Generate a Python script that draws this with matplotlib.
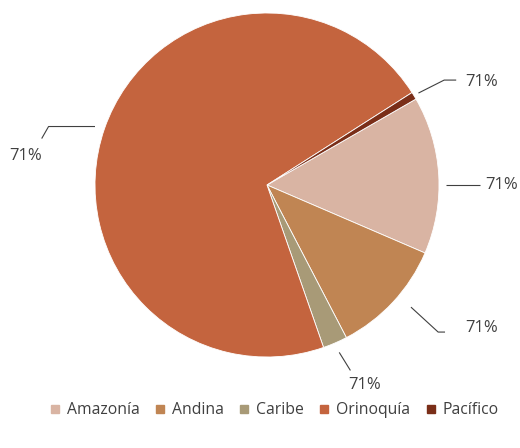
import numpy as np
import matplotlib.pyplot as plt
from matplotlib.lines import Line2D

plt.rcParams['font.family'] = ['Open Sans', 'DejaVu Sans']

# datos
regiones = ['Amazonía', 'Andina', 'Caribe', 'Orinoquía', 'Pacífico']
valores = [14.8, 10.9, 2.3, 71.3, 0.7]
etiquetas = ['71%', '71%', '71%', '71%', '71%']
colores = ['#D9B4A3', '#C08553', '#A89A77', '#C4643E', '#7A2E18']

# posicion de cada etiqueta (ax units)
pos_texto = [(1.27, 0.0), (1.15, -0.83), (0.47, -1.16), (-1.50, 0.17), (1.15, 0.60)]

fig = plt.figure(figsize=(5.2, 4.48), dpi=100)
ax = fig.add_axes([0, 0, 1, 1])

wedges, _ = ax.pie(valores, colors=colores, startangle=30, counterclock=False,
                   radius=1.0, wedgeprops=dict(linewidth=0.6, edgecolor='white'))
ax.set_aspect('auto')
ax.set_xlim(-267/172, 253/172)
ax.set_ylim(-263/172, 185/172)
ax.axis('off')

gris = '#404040'
for i, w in enumerate(wedges):
    ang = np.deg2rad((w.theta1 + w.theta2) / 2)
    tx, ty = pos_texto[i]
    if i == 0:    # Amazonia: linea horizontal
        xs, ys = [1.04, 1.24], [0.0, 0.0]
    elif i == 1:  # Andina
        xs, ys = [0.837, 0.995, 1.035], [-0.71, -0.855, -0.855]
    elif i == 2:  # Caribe
        x0, y0 = 1.06*np.cos(ang), 1.06*np.sin(ang)
        xs, ys = [x0, x0 + 0.065], [y0, y0 - 0.105]
    elif i == 3:  # Orinoquia
        xs, ys = [-1.0, -1.27, -1.31], [0.34, 0.34, 0.27]
    else:         # Pacifico
        x0, y0 = 1.03*np.cos(ang), 1.03*np.sin(ang)
        xs, ys = [x0, 1.03, 1.1], [y0, 0.61, 0.61]
    ax.plot(xs, ys, color=gris, lw=0.8, solid_capstyle='butt')
    ax.text(tx, ty, etiquetas[i], fontsize=12, color=gris, va='center', ha='left')

handles = [Line2D([], [], marker='s', ls='', markersize=6, color=c) for c in colores]
ax.legend(handles, regiones, loc='center', bbox_to_anchor=(0.525, 38/448), ncol=5,
          frameon=False, fontsize=11.3, handletextpad=0.25, columnspacing=0.8,
          handlelength=1.0, labelcolor=gris)

fig.savefig('out.png', dpi=100)
